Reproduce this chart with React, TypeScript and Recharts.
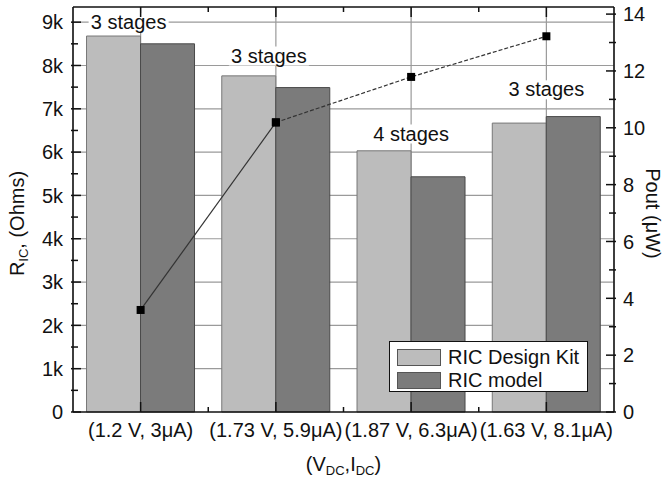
import React from 'react';
import {
  ComposedChart,
  Bar,
  Line,
  XAxis,
  YAxis,
  CartesianGrid,
  Legend,
  ReferenceDot,
} from 'recharts';

// Bias points (V_DC, I_DC)
const categories = ['(1.2 V, 3μA)', '(1.73 V, 5.9μA)', '(1.87 V, 6.3μA)', '(1.63 V, 8.1μA)'];
// R_IC in Ohms
const designKit = [8680, 7760, 6030, 6670];
const ricModel = [8500, 7490, 5430, 6820];
// output power in µW
const pout = [3.59, 10.19, 11.79, 13.22];
// number of stages per bias point, with the R_IC level the note sits at
const stageNotes = ['3 stages', '3 stages', '4 stages', '3 stages'];
const stageNoteLevel = [9000, 8230, 6430, 7450];

const leftTicks = [0, 500, 1000, 1500, 2000, 2500, 3000, 3500, 4000, 4500, 5000, 5500, 6000, 6500, 7000, 7500, 8000, 8500, 9000];
const leftLabels = ['0', '', '1k', '', '2k', '', '3k', '', '4k', '', '5k', '', '6k', '', '7k', '', '8k', '', '9k'];
const gridTicks = [1000, 2000, 3000, 4000, 5000, 6000, 7000, 8000, 9000];
const rightTicks = [0, 1, 2, 3, 4, 5, 6, 7, 8, 9, 10, 11, 12, 13, 14];
const rightLabels = ['0', '', '2', '', '4', '', '6', '', '8', '', '10', '', '12', '', '14'];

const rows = categories.map((name, i) => ({
  name,
  kit: designKit[i],
  model: ricModel[i],
  poutSolid: i <= 1 ? pout[i] : null,
  poutDashed: i >= 1 ? pout[i] : null,
}));

const FONT = '"Liberation Sans", Arial, sans-serif';
const FS = 20;
const LIGHT = '#bcbcbc';
const DARK = '#7b7b7b';
const AXIS = '#111';
const W = 665;
const H = 480;
const LEFT_W = 73;
const RIGHT_W = 51;
const TOP_H = 7;
const BOTTOM_H = 68;
const HALF_BAND = (W - LEFT_W - RIGHT_W) / categories.length / 2;
const NOTE_DX = [-12, -7, 0, 0];
const R_MAX = 9350;

// horizontal grid only at the labelled R_IC ticks
const gridRows = ({ yAxis, offset }: any) => {
  const s = yAxis && yAxis.scale;
  if (typeof s === 'function') return gridTicks.map((v) => s(v));
  if (s && typeof s.map === 'function') return gridTicks.map((v) => s.map(v));
  return gridTicks.map((v) => offset.top + offset.height * (1 - v / R_MAX));
};

const BottomTick = (props: any) => {
  const { x, y, payload, index } = props;
  return (
    <g>
      <line x1={x} x2={x} y1={y} y2={y - 10} stroke={AXIS} strokeWidth={1.5} />
      {index < categories.length - 1 && (
        <line x1={x + HALF_BAND} x2={x + HALF_BAND} y1={y} y2={y - 5} stroke={AXIS} strokeWidth={1.5} />
      )}
      <text x={x} y={y + 25} textAnchor="middle" fontSize={FS} fill="#111" fontFamily={FONT}>
        {payload.value}
      </text>
    </g>
  );
};

const TopTick = (props: any) => {
  const { x, y, index } = props;
  return (
    <g>
      <line x1={x} x2={x} y1={y} y2={y + 10} stroke={AXIS} strokeWidth={1.5} />
      {index < categories.length - 1 && (
        <line x1={x + HALF_BAND} x2={x + HALF_BAND} y1={y} y2={y + 5} stroke={AXIS} strokeWidth={1.5} />
      )}
    </g>
  );
};

const LeftTick = (props: any) => {
  const { x, y, index } = props;
  const label = leftLabels[index];
  return (
    <g>
      <line x1={x - 2} x2={x + (label ? 8 : 5)} y1={y} y2={y} stroke={AXIS} strokeWidth={1.5} />
      {label && (
        <text x={x - 10} y={y} dy="0.36em" textAnchor="end" fontSize={FS} fill="#111" fontFamily={FONT}>
          {label}
        </text>
      )}
    </g>
  );
};

const RightTick = (props: any) => {
  const { x, y, index } = props;
  const label = rightLabels[index];
  return (
    <g>
      <line x1={x + 2} x2={x - (label ? 8 : 5)} y1={y} y2={y} stroke={AXIS} strokeWidth={1.5} />
      {label && (
        <text x={x + 9} y={y} dy="0.36em" textAnchor="start" fontSize={FS} fill="#111" fontFamily={FONT}>
          {label}
        </text>
      )}
    </g>
  );
};

const SquareDot = (props: any) => {
  const { cx, cy, index, dataKey } = props;
  if (cx == null || cy == null || props.value == null) return <g key={`${dataKey}-${index}`} />;
  return <rect key={`${dataKey}-${index}`} x={cx - 4} y={cy - 4} width={8} height={8} fill="#000" />;
};

const LeftTitle = (props: any) => {
  const vb = props.viewBox;
  const x = vb.x + 17;
  const y = vb.y + vb.height / 2 + 14;
  return (
    <text x={x} y={y} transform={`rotate(-90, ${x}, ${y})`} textAnchor="middle" dy="0.36em" fontSize={FS} fill="#111" fontFamily={FONT}>
      R<tspan fontSize={13} dy={4}>IC</tspan>
      <tspan dy={-4}>, (Ohms)</tspan>
    </text>
  );
};

const RightTitle = (props: any) => {
  const vb = props.viewBox;
  const x = vb.x + 39;
  const y = vb.y + vb.height / 2 + 4;
  return (
    <text x={x} y={y} transform={`rotate(90, ${x}, ${y})`} textAnchor="middle" dy="0.36em" fontSize={FS} fill="#111" fontFamily={FONT}>
      Pout (μW)
    </text>
  );
};

const BottomTitle = (props: any) => {
  const vb = props.viewBox;
  return (
    <text x={vb.x + vb.width / 2} y={vb.y + 59} textAnchor="middle" fontSize={FS} fill="#111" fontFamily={FONT}>
      (V<tspan fontSize={13} dy={4}>DC</tspan>
      <tspan dy={-4}>,I</tspan>
      <tspan fontSize={13} dy={4}>DC</tspan>
      <tspan dy={-4}>)</tspan>
    </text>
  );
};

const StageNote = (i: number) => (props: any) => {
  const { cx, cy } = props;
  const x = cx + NOTE_DX[i];
  return (
    <g>
      <rect x={x - 40} y={cy - 9} width={80} height={19} fill="#fff" />
      <text x={x} y={cy} dy="0.36em" textAnchor="middle" fontSize={FS} fill="#111" fontFamily={FONT}>
        {stageNotes[i]}
      </text>
    </g>
  );
};

const LegendBox = () => (
  <div
    style={{
      border: `1.5px solid ${AXIS}`,
      background: '#fff',
      width: 199,
      height: 51,
      boxSizing: 'border-box',
      padding: '4px 0 0 7px',
      fontFamily: FONT,
      fontSize: FS,
      color: '#111',
    }}
  >
    {[
      ['RIC Design Kit', LIGHT],
      ['RIC model', DARK],
    ].map(([name, color]) => (
      <div key={name} style={{ display: 'flex', alignItems: 'center', height: 22, marginBottom: 1 }}>
        <span
          style={{
            display: 'inline-block',
            width: 44,
            height: 17,
            background: color,
            border: '1px solid #555',
            boxSizing: 'border-box',
            marginRight: 7,
          }}
        />
        {name}
      </div>
    ))}
  </div>
);

export default function App() {
  return (
    <div style={{ width: W, height: H, background: '#fff' }}>
      <style>{'body{margin:0}'}</style>
      <ComposedChart
        width={W}
        height={H}
        data={rows}
        margin={{ top: 0, right: 0, bottom: 0, left: 0 }}
        barGap={0}
        barCategoryGap="10%"
        style={{ fontFamily: FONT }}
      >
        <CartesianGrid stroke="#9a9a9a" strokeWidth={1.2} horizontalCoordinatesGenerator={gridRows} />
        <XAxis
          dataKey="name"
          height={BOTTOM_H}
          tickSize={0}
          tickMargin={0}
          tick={<BottomTick />}
          axisLine={{ stroke: AXIS, strokeWidth: 1.5 }}
          interval={0}
          label={{ content: <BottomTitle /> }}
        />
        <XAxis
          xAxisId="top"
          dataKey="name"
          orientation="top"
          height={TOP_H}
          tickSize={0}
          tickMargin={0}
          tick={<TopTick />}
          axisLine={{ stroke: AXIS, strokeWidth: 1.5 }}
          interval={0}
        />
        <YAxis
          width={LEFT_W}
          domain={[0, R_MAX]}
          ticks={leftTicks}
          interval={0}
          tickSize={0}
          tickMargin={0}
          tick={<LeftTick />}
          axisLine={{ stroke: AXIS, strokeWidth: 1.5 }}
          label={{ content: <LeftTitle /> }}
        />
        <YAxis
          yAxisId="right"
          orientation="right"
          width={RIGHT_W}
          domain={[0, 14.25]}
          ticks={rightTicks}
          interval={0}
          tickSize={0}
          tickMargin={0}
          tick={<RightTick />}
          axisLine={{ stroke: AXIS, strokeWidth: 1.5 }}
          label={{ content: <RightTitle /> }}
        />
        <Bar dataKey="kit" name="RIC Design Kit" fill={LIGHT} stroke="#777" strokeWidth={1} isAnimationActive={false} />
        <Bar dataKey="model" name="RIC model" fill={DARK} stroke="#4a4a4a" strokeWidth={1} isAnimationActive={false} />
        {categories.map((c, i) => (
          <ReferenceDot key={`note-${i}`} x={c} y={stageNoteLevel[i]} r={0} shape={StageNote(i)} />
        ))}
        <Line
          yAxisId="right"
          dataKey="poutSolid"
          stroke="#333"
          strokeWidth={1.2}
          dot={<SquareDot />}
          activeDot={false}
          connectNulls={false}
          legendType="none"
          isAnimationActive={false}
        />
        <Line
          yAxisId="right"
          dataKey="poutDashed"
          stroke="#333"
          strokeWidth={1.2}
          strokeDasharray="4 2"
          dot={<SquareDot />}
          activeDot={false}
          connectNulls={false}
          legendType="none"
          isAnimationActive={false}
        />
        <Legend
          layout="vertical"
          align="center"
          verticalAlign="middle"
          content={<LegendBox />}
          wrapperStyle={{ left: 389, top: 341, width: 199, height: 51 }}
        />
      </ComposedChart>
    </div>
  );
}
